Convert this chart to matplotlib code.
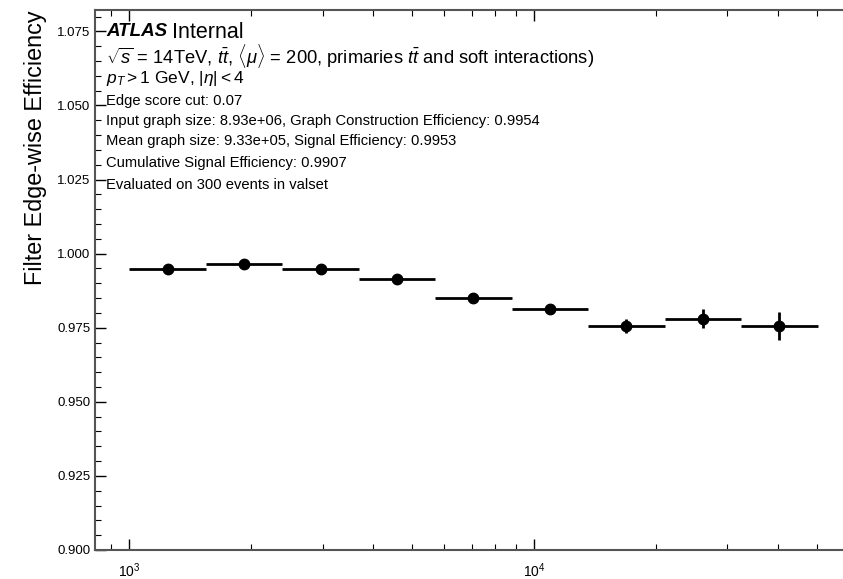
import numpy as np
import matplotlib
matplotlib.use("Agg")
import matplotlib.pyplot as plt
from matplotlib.ticker import MultipleLocator, FormatStrFormatter

# ---- data ----
bin_edges = [1000, 1545, 2387, 3687, 5696, 8799, 13594, 21000, 32444, 50119]
efficiency = [0.9949, 0.9966, 0.9949, 0.9916, 0.9851, 0.9814, 0.9755, 0.9781, 0.9755]
eff_err = [0.0005, 0.0006, 0.0006, 0.0008, 0.0010, 0.0013, 0.0023, 0.0031, 0.0048]

ylabel = "Filter Edge-wise Efficiency"
header_lines = [
    r"$\sqrt{s}$ = 14TeV, $t\bar{t}$, $\langle\mu\rangle$ = 200, primaries $t\bar{t}$ and soft interactions)",
    r"$p_T > 1$ GeV, $|\eta| < 4$",
]
header_sizes = [13.2, 12.5]
info_lines = [
    "Edge score cut: 0.07",
    "Input graph size: 8.93e+06, Graph Construction Efficiency: 0.9954",
    "Mean graph size: 9.33e+05, Signal Efficiency: 0.9953",
    "Cumulative Signal Efficiency: 0.9907",
    "Evaluated on 300 events in valset",
]

plt.rcParams["font.family"] = ["Liberation Sans", "DejaVu Sans"]
plt.rcParams["mathtext.fontset"] = "custom"
plt.rcParams["mathtext.rm"] = "Liberation Sans"
plt.rcParams["mathtext.it"] = "Liberation Sans:italic"
plt.rcParams["mathtext.bf"] = "Liberation Sans:bold"
plt.rcParams["mathtext.sf"] = "Liberation Sans"

W, H = 843, 579
fig = plt.figure(figsize=(W / 100, H / 100), dpi=100)
ax = fig.add_axes([95 / W, 29 / H, (880 - 95) / W, (550 - 10) / H])

edges = np.array(bin_edges)
centers = np.sqrt(edges[:-1] * edges[1:])
xerr = np.vstack([centers - edges[:-1], edges[1:] - centers])

ax.errorbar(centers, efficiency, yerr=eff_err, xerr=xerr, fmt="o", color="black",
            markersize=7.5, elinewidth=2, capsize=0)

ax.set_xscale("log")
ax.set_xlim(10 ** 2.915, 10 ** (2.915 + (880 - 95) / 404.8))
ax.set_ylim(0.9, 1.0822)
ax.yaxis.set_major_locator(MultipleLocator(0.025))
ax.yaxis.set_minor_locator(MultipleLocator(0.005))
ax.yaxis.set_major_formatter(FormatStrFormatter("%.3f"))

for s in ax.spines.values():
    s.set_linewidth(1.5)
    s.set_color("#555555")
ax.tick_params(which="both", direction="in", top=True, right=True, labelsize=9.5, colors="black")
ax.tick_params(which="major", length=8, width=1)
ax.tick_params(which="minor", length=4, width=0.8)
ax.tick_params(axis="x", which="major", pad=8, labelsize=10)

ax.set_ylabel(ylabel, fontsize=16.8, loc="top", labelpad=7)

fig.text(106 / W, 1 - 32 / H, "ATLAS", fontsize=13.5, fontweight="bold", style="italic",
         va="center", ha="left")
fig.text(172 / W, 1 - 32 / H, "Internal", fontsize=15.5, va="center", ha="left")
for line, y, fs in zip(header_lines, [56, 79], header_sizes):
    fig.text(106 / W, 1 - y / H, line, fontsize=fs, va="center", ha="left")
for line, y in zip(info_lines, [101, 121, 141, 163, 185]):
    fig.text(106 / W, 1 - y / H, line, fontsize=10.6, va="center", ha="left")

fig.savefig("out.png", dpi=100)
